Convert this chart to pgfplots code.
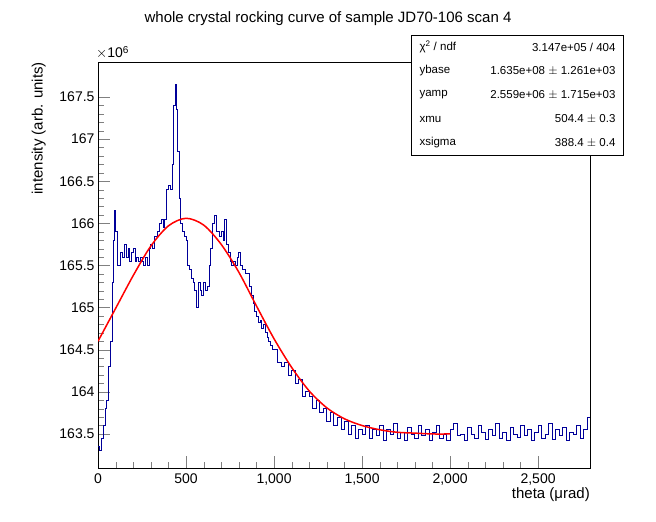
\documentclass[border=0pt]{standalone}
\usepackage{pgfplots}
\pgfplotsset{compat=1.18}
\usepackage{fontspec}
\setmainfont{Liberation Sans}
\definecolor{rblue}{RGB}{0,0,153}
\begin{document}
\begin{tikzpicture}[x=1pt,y=1pt]
\path (0,0) rectangle (656,522);
\node[font=\fontsize{15}{18}\selectfont] at (328,503) {whole crystal rocking curve of sample JD70-106 scan 4};
\begin{axis}[at={(98pt,54pt)},anchor=south west,scale only axis,width=492pt,height=406pt,
 xmin=0,xmax=2795,ymin=163.096,ymax=167.915,
 xtick={0,500,...,2500},ytick={163.5,164,...,167.5},
 minor x tick num=4, minor y tick num=4,
 tick align=inside, major tick length=12pt, minor tick length=6pt,
 xtick pos=bottom, ytick pos=left,
 scaled y ticks=false,
 yticklabel={\pgfmathparse{\tick}\pgfmathprintnumber[fixed,precision=1]{\pgfmathresult}},
 tick label style={font=\fontsize{14}{16}\selectfont},
 /pgf/number format/assume math mode=true,
 xticklabel style={yshift=-2pt},
 clip=true]
\addplot[rblue,const plot mark left,line width=0.8pt] coordinates {
(0,163.35)(10,163.3)(20,163.45)(30,163.6)(40,163.8)(50,163.9)(60,164.3)(70,164.6)(80,165.3)(90,165.8)(95,166.15)(100,165.9)(110,165.5)(120,165.5)(130,165.65)(140,165.6)(150,165.75)(160,165.6)(170,165.7)(180,165.55)(190,165.65)(200,165.7)(210,165.55)(220,165.6)(230,165.55)(240,165.6)(250,165.55)(260,165.5)(270,165.6)(280,165.5)(290,165.7)(300,165.75)(310,165.7)(320,165.85)(330,165.85)(340,165.9)(350,166.0)(360,166.05)(370,165.95)(380,166.05)(390,166.4)(400,166.45)(410,166.4)(420,166.7)(430,167.4)(440,167.65)(445,167.35)(450,166.85)(460,166.3)(470,166.0)(480,165.9)(490,165.85)(500,165.8)(510,165.5)(520,165.45)(530,165.35)(540,165.3)(550,165.2)(560,165.0)(570,165.3)(580,165.2)(590,165.15)(600,165.3)(610,165.2)(620,165.25)(630,165.5)(640,165.7)(650,166.0)(660,166.1)(670,165.9)(680,165.9)(690,165.85)(700,165.9)(710,165.8)(720,166.05)(730,165.75)(740,165.65)(750,165.55)(760,165.5)(770,165.55)(780,165.5)(790,165.6)(800,165.65)(810,165.5)(820,165.45)(830,165.45)(840,165.4)(850,165.4)(860,165.25)(870,165.15)(880,165.05)(890,164.95)(900,164.9)(910,164.82)(920,164.85)(930,164.75)(940,164.8)(950,164.7)(960,164.65)(970,164.6)(980,164.55)(990,164.5)(1000,164.5)(1020,164.35)(1040,164.3)(1060,164.35)(1080,164.2)(1100,164.25)(1120,164.1)(1140,164.15)(1160,163.95)(1180,164.0)(1200,163.95)(1220,163.8)(1240,163.9)(1260,163.75)(1280,163.8)(1300,163.65)(1320,163.75)(1340,163.6)(1360,163.7)(1380,163.55)(1400,163.65)(1420,163.5)(1440,163.6)(1460,163.45)(1480,163.55)
(1500,163.5)(1520,163.6)(1540,163.45)(1560,163.55)(1580,163.48)(1600,163.6)(1620,163.42)(1640,163.55)(1660,163.5)(1680,163.62)(1700,163.45)(1720,163.52)(1740,163.42)(1760,163.58)(1780,163.5)(1800,163.45)(1820,163.6)(1840,163.48)(1860,163.55)(1880,163.42)(1900,163.52)(1920,163.6)(1940,163.45)(1960,163.5)(1980,163.42)(2000,163.55)(2020,163.62)(2040,163.48)(2060,163.5)(2080,163.42)(2100,163.58)(2120,163.5)(2140,163.45)(2160,163.6)(2180,163.52)(2200,163.44)(2220,163.55)(2240,163.48)(2260,163.62)(2280,163.45)(2300,163.52)(2320,163.42)(2340,163.58)(2360,163.5)(2380,163.46)(2400,163.6)(2420,163.48)(2440,163.55)(2460,163.42)(2480,163.52)(2500,163.6)(2520,163.45)(2540,163.5)(2560,163.62)(2580,163.44)(2600,163.55)(2620,163.48)(2640,163.58)(2660,163.42)(2680,163.52)(2700,163.5)(2720,163.6)(2740,163.45)(2760,163.55)(2780,163.7)(2795,163.7)};
\addplot[red,line width=1.5pt,smooth] coordinates {
(0,164.60)(100,164.99)(200,165.38)(300,165.73)(400,165.97)(500,166.06)(600,165.98)(700,165.75)(800,165.42)(900,165.02)(1000,164.63)(1100,164.29)(1200,164.01)(1300,163.81)(1400,163.68)(1500,163.60)(1600,163.55)(1700,163.52)(1800,163.51)(1900,163.50)(2000,163.50)};
\end{axis}
\node[anchor=south west,font=\fontsize{14}{16}\selectfont,inner sep=0pt] at (96,463) {$\times$10\raisebox{0.6ex}{\fontsize{10}{12}\selectfont 6}};
\node[anchor=east,rotate=90,font=\fontsize{15}{18}\selectfont] at (40,395) {};
\node[rotate=90,anchor=south east,font=\fontsize{15}{18}\selectfont,inner sep=0pt] at (46,460) {intensity (arb. units)};
\node[anchor=north east,font=\fontsize{15}{18}\selectfont,inner sep=0pt] at (590,35) {theta (μrad)};
\draw[fill=white,line width=0.8pt] (411,367) rectangle (623,487);
\begin{scope}[font=\fontsize{11.5}{14}\selectfont]
\node[anchor=west] at (416,475) {χ\textsuperscript{2} / ndf};
\node[anchor=east] at (619,475) {3.147e+05 / 404};
\node[anchor=west] at (416,451) {ybase};
\node[anchor=east] at (619,451) {1.635e+08 $\pm$ 1.261e+03};
\node[anchor=west] at (416,427) {yamp};
\node[anchor=east] at (619,427) {2.559e+06 $\pm$ 1.715e+03};
\node[anchor=west] at (416,403) {xmu};
\node[anchor=east] at (619,403) {504.4 $\pm$ 0.3};
\node[anchor=west] at (416,379) {xsigma};
\node[anchor=east] at (619,379) {388.4 $\pm$ 0.4};
\end{scope}
\end{tikzpicture}
\end{document}
